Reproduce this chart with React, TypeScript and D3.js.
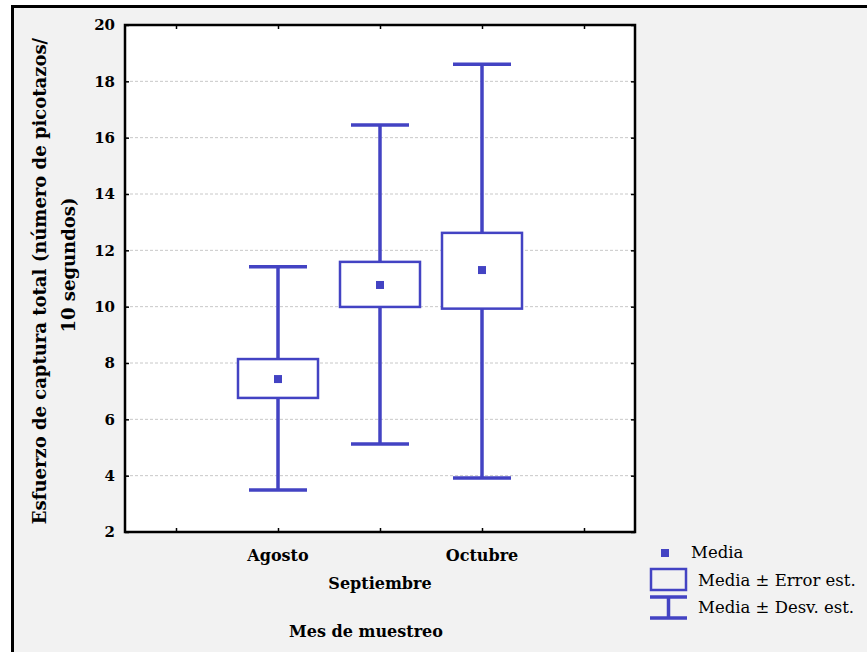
import React, { useEffect, useRef } from 'react'
import * as d3 from 'd3'

// datos
const months = ['Agosto', 'Septiembre', 'Octubre']
const means = [7.43, 10.77, 11.3]
const seLow = [6.76, 9.99, 9.93]
const seHigh = [8.14, 11.59, 12.62]
const sdLow = [3.49, 5.12, 3.92]
const sdHigh = [11.42, 16.45, 18.61]
const yTicks = [2, 4, 6, 8, 10, 12, 14, 16, 18, 20]
const legendLabels = ['Media', 'Media \u00b1 Error est.', 'Media \u00b1 Desv. est.']

const BLUE = '#4343c3'
const FONT = '"DejaVu Serif", "Liberation Serif", serif'

export default function App() {
  const ref = useRef<SVGSVGElement>(null)

  useEffect(() => {
    const svg = d3.select(ref.current)
    svg.selectAll('*').remove()

    const W = 867, H = 652
    const margin = { top: 25, right: 232, bottom: 120, left: 125 }
    const width = W - margin.left - margin.right
    const height = H - margin.top - margin.bottom

    // fondo y marco exterior
    svg.append('rect').attr('x', 12).attr('y', 6).attr('width', W).attr('height', H).attr('fill', '#f2f2f2')
    svg.append('line').attr('x1', 11).attr('x2', W).attr('y1', 6.5).attr('y2', 6.5).attr('stroke', '#000').attr('stroke-width', 3)
    svg.append('line').attr('x1', 12.5).attr('x2', 12.5).attr('y1', 5).attr('y2', H).attr('stroke', '#000').attr('stroke-width', 3)

    const x = d3.scalePoint<string>()
      .domain(['_a', ...months, '_b'])
      .range([0, width])
      .padding(0.5)
    const y = d3.scaleLinear().domain([2, 20]).range([height, 0])

    const g = svg.append('g').attr('transform', `translate(${margin.left},${margin.top})`)

    g.append('rect').attr('width', width).attr('height', height).attr('fill', '#fff')

    // rejilla
    g.selectAll('.grid')
      .data(yTicks.filter(t => t > 2 && t < 20))
      .enter().append('line')
      .attr('x1', 0).attr('x2', width)
      .attr('y1', d => y(d)).attr('y2', d => y(d))
      .attr('stroke', '#c8c8c8').attr('stroke-width', 1).attr('stroke-dasharray', '3,2')

    // ejes con marcas hacia dentro
    const tickLen = -4
    const yLeft = g.append('g')
      .call(d3.axisLeft(y).tickValues(yTicks).tickSize(tickLen).tickPadding(10).tickFormat(d3.format('d')))
    yLeft.selectAll('text').attr('font-family', FONT).attr('font-weight', 'bold').attr('font-size', 15).attr('fill', '#000')
    g.append('g').attr('transform', `translate(${width},0)`)
      .call(d3.axisRight(y).tickValues(yTicks).tickSize(tickLen).tickFormat(() => ''))
    g.append('g').attr('transform', `translate(0,${height})`)
      .call(d3.axisBottom(x).tickSize(tickLen).tickFormat(() => ''))
    g.append('g')
      .call(d3.axisTop(x).tickSize(tickLen).tickFormat(() => ''))
    g.selectAll('.domain').remove()
    g.selectAll('.tick line').attr('stroke', '#000').attr('stroke-width', 1.5)

    g.append('rect').attr('width', width).attr('height', height)
      .attr('fill', 'none').attr('stroke', '#000').attr('stroke-width', 2.5)

    // etiquetas de categorias (escalonadas)
    g.selectAll('.cat')
      .data(months)
      .enter().append('text')
      .attr('x', d => x(d)!)
      .attr('y', (d, i) => height + (i % 2 === 0 ? 29 : 57))
      .attr('text-anchor', 'middle')
      .attr('font-family', FONT).attr('font-weight', 'bold').attr('font-size', 16)
      .text(d => d)

    const bw = 80, cw = 58

    // desviacion estandar
    const sd = g.selectAll('.sd').data(months).enter().append('g')
    sd.append('line')
      .attr('x1', d => x(d)!).attr('x2', d => x(d)!)
      .attr('y1', (d, i) => y(sdLow[i])).attr('y2', (d, i) => y(sdHigh[i]))
      .attr('stroke', BLUE).attr('stroke-width', 3.5)
    sd.append('line')
      .attr('x1', d => x(d)! - cw / 2).attr('x2', d => x(d)! + cw / 2)
      .attr('y1', (d, i) => y(sdLow[i])).attr('y2', (d, i) => y(sdLow[i]))
      .attr('stroke', BLUE).attr('stroke-width', 3.5)
    sd.append('line')
      .attr('x1', d => x(d)! - cw / 2).attr('x2', d => x(d)! + cw / 2)
      .attr('y1', (d, i) => y(sdHigh[i])).attr('y2', (d, i) => y(sdHigh[i]))
      .attr('stroke', BLUE).attr('stroke-width', 3.5)

    // error estandar
    g.selectAll('.se').data(months).enter().append('rect')
      .attr('x', d => x(d)! - bw / 2)
      .attr('y', (d, i) => y(seHigh[i]))
      .attr('width', bw)
      .attr('height', (d, i) => y(seLow[i]) - y(seHigh[i]))
      .attr('fill', '#fff').attr('stroke', BLUE).attr('stroke-width', 2.5)

    // media
    g.selectAll('.mean').data(months).enter().append('rect')
      .attr('x', d => x(d)! - 4)
      .attr('y', (d, i) => y(means[i]) - 4)
      .attr('width', 8).attr('height', 8)
      .attr('fill', BLUE)

    // titulos
    svg.append('text')
      .attr('x', 366).attr('y', 637)
      .attr('text-anchor', 'middle')
      .attr('font-family', FONT).attr('font-weight', 'bold').attr('font-size', 16)
      .text('Mes de muestreo')
    svg.append('text')
      .attr('transform', 'translate(46,281) rotate(-90)')
      .attr('text-anchor', 'middle')
      .attr('font-family', FONT).attr('font-weight', 'bold').attr('font-size', 18)
      .text('Esfuerzo de captura total (número de picotazos/')
    svg.append('text')
      .attr('transform', 'translate(75,265) rotate(-90)')
      .attr('text-anchor', 'middle')
      .attr('font-family', FONT).attr('font-weight', 'bold').attr('font-size', 18)
      .text('10 segundos)')

    // leyenda
    const lg = svg.append('g')
    lg.append('rect').attr('x', 661).attr('y', 549).attr('width', 8).attr('height', 8).attr('fill', BLUE)
    lg.append('rect').attr('x', 651).attr('y', 569).attr('width', 35).attr('height', 21)
      .attr('fill', 'none').attr('stroke', BLUE).attr('stroke-width', 2.5)
    lg.append('line').attr('x1', 650).attr('x2', 687).attr('y1', 597).attr('y2', 597).attr('stroke', BLUE).attr('stroke-width', 3.5)
    lg.append('line').attr('x1', 650).attr('x2', 687).attr('y1', 618).attr('y2', 618).attr('stroke', BLUE).attr('stroke-width', 3.5)
    lg.append('line').attr('x1', 668.5).attr('x2', 668.5).attr('y1', 597).attr('y2', 618).attr('stroke', BLUE).attr('stroke-width', 3.5)
    lg.selectAll('.lt').data(legendLabels).enter().append('text')
      .attr('x', (d, i) => (i === 0 ? 691 : 698))
      .attr('y', (d, i) => [558, 586, 613][i])
      .attr('font-family', FONT).attr('font-size', 16.5)
      .text(d => d)
  }, [])

  return (
    <svg ref={ref} width={867} height={652}
      style={{ position: 'absolute', left: 0, top: 0, background: '#fff' }} />
  )
}
